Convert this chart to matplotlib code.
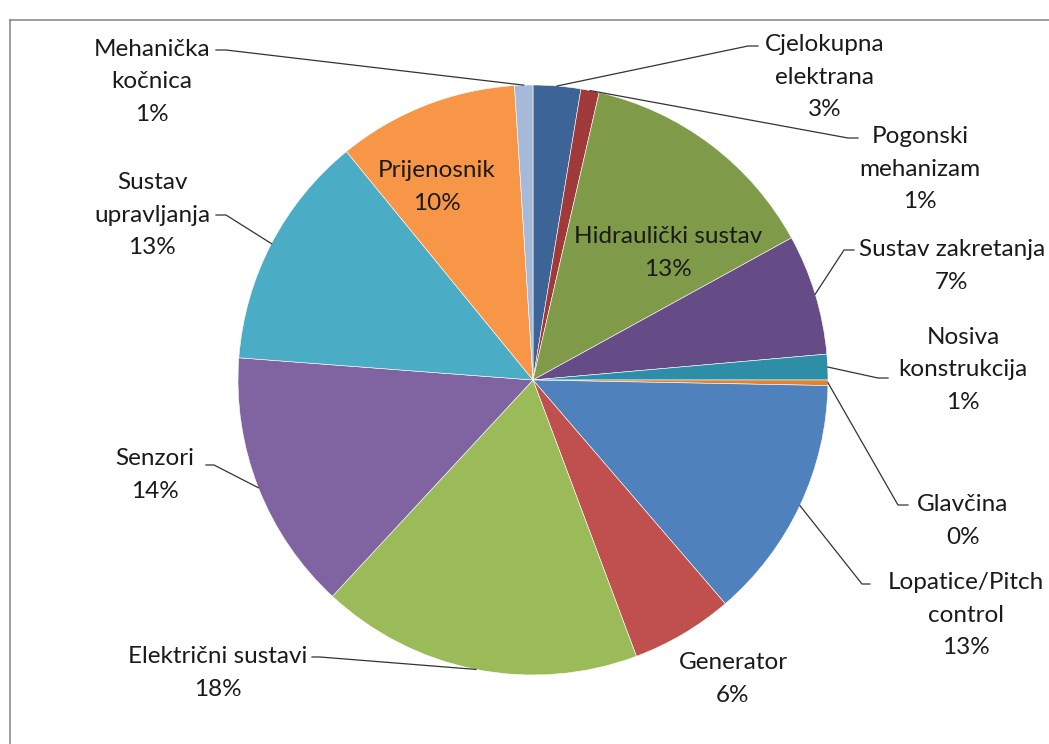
import numpy as np
import matplotlib.pyplot as plt

# slices clockwise from 12 o'clock
labels = ["Cjelokupna\nelektrana", "Pogonski\nmehanizam", "Hidraulički sustav",
          "Sustav zakretanja", "Nosiva\nkonstrukcija", "Glavčina",
          "Lopatice/Pitch\ncontrol", "Generator", "Električni sustavi",
          "Senzori", "Sustav\nupravljanja", "Prijenosnik", "Mehanička\nkočnica"]
values = [2.6, 1.0, 13.4, 6.6, 1.4, 0.3, 13.4, 5.6, 17.6, 14.3, 12.9, 9.9, 1.0]
colors = ["#3C6496", "#A0393A", "#7F9A48", "#664C86", "#2E8EA7", "#E0842F",
          "#4F81BD", "#C0504D", "#9BBB59", "#8064A2", "#4BACC6", "#F79646", "#A7B9D9"]

W, H = 1049, 744
CX, CY, R = 533, 380, 295


def px(x, y):
    return (x - CX) / R, (CY - y) / R


fig = plt.figure(figsize=(W / 100, H / 100), dpi=100)
ax = fig.add_axes([0, 0, 1, 1])

# frame of the chart area (cut off on the right and bottom)
fig.add_artist(plt.Line2D([10 / W, 10 / W], [0, 1 - 20 / H], color="#8c8c8c", lw=1.2))
fig.add_artist(plt.Line2D([10 / W, 1], [1 - 20 / H, 1 - 20 / H], color="#8c8c8c", lw=1.2))

wedges, _ = ax.pie(values, colors=colors, startangle=90, counterclock=False,
                   radius=1, center=(0, 0), frame=True,
                   wedgeprops=dict(edgecolor="white", linewidth=0.4))
ax.set_xlim(px(0, 0)[0], px(W, 0)[0])
ax.set_ylim(px(0, H)[1], px(0, 0)[1])
ax.set_aspect("auto")
ax.axis("off")

# text centre (px), leader elbow (px), leader end (px) or None
layout = {
    0: ((825, 77), (748, 46), (758, 46)),
    1: ((920, 169), (848, 138), (858, 138)),
    2: ((668, 253), None, None),
    3: ((952, 266), (844, 250), (854, 250)),
    4: ((963, 370), (878, 378), (888, 378)),
    5: ((963, 521), (898, 505), (908, 505)),
    6: ((966, 615), (862, 584), (870, 584)),
    7: ((733, 679), None, None),
    8: ((218, 673), (320, 657), (312, 657)),
    9: ((155, 475), (214, 465), (206, 465)),
    10: ((152, 215), (226, 215), (216, 215)),
    11: ((437, 187), None, None),
    12: ((152, 82), (226, 50), (216, 50)),
}

total = sum(values)
cum = 0
for i, v in enumerate(values):
    mid = np.deg2rad(90 - (cum + v / 2) / total * 360)
    cum += v
    pct = f"{round(v)}%"
    (tx, ty), elbow, end = layout[i]
    ax.text(*px(tx, ty), labels[i] + "\n" + pct, ha="center", va="center",
            fontsize=17.5, family="Lato", color="#1a1a1a", linespacing=1.65)
    if elbow is not None:
        ex, ey = np.cos(mid), np.sin(mid)
        bx, by = px(*elbow)
        nx, ny = px(*end)
        ax.plot([ex, bx, nx], [ey, by, ny], color="#333333", lw=0.9)

fig.savefig("out.png", dpi=100)
